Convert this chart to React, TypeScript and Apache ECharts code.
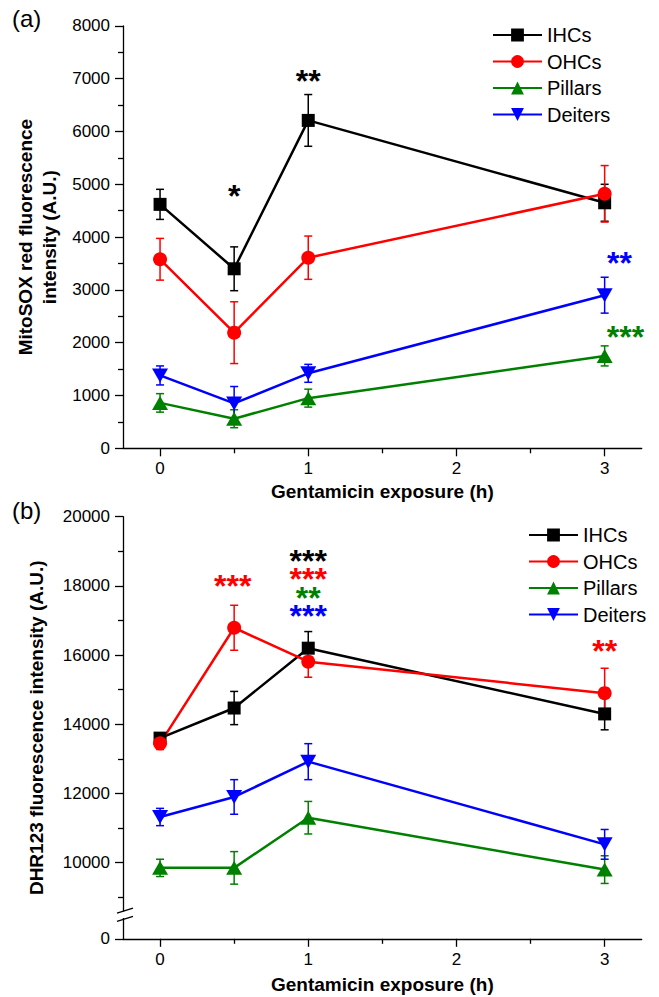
import React, { useEffect, useRef } from "react";
import * as echarts from "echarts";

// ---------- data ----------
const hours = [0, 0.5, 1, 3];
const seriesNames = ["IHCs", "OHCs", "Pillars", "Deiters"];
const seriesColors = ["#000000", "#ff0000", "#008000", "#0000ff"];

// (a) MitoSOX red fluorescence intensity (A.U.)
const mitoIHC = [4620, 3400, 6210, 4650];
const mitoIHCErr = [285, 415, 490, 350];
const mitoOHC = [3580, 2190, 3610, 4820];
const mitoOHCErr = [395, 585, 410, 535];
const mitoPillars = [860, 560, 950, 1750];
const mitoPillarsErr = [175, 170, 170, 190];
const mitoDeiters = [1380, 850, 1420, 2900];
const mitoDeitersErr = [180, 320, 170, 340];

// (b) DHR123 fluorescence intensity (A.U.)
const dhrIHC = [13600, 14470, 16200, 14300];
const dhrIHCErr = [120, 480, 480, 460];
const dhrOHC = [13450, 16790, 15810, 14900];
const dhrOHCErr = [180, 650, 450, 720];
const dhrPillars = [9850, 9850, 11300, 9800];
const dhrPillarsErr = [250, 470, 470, 400];
const dhrDeiters = [11320, 11900, 12920, 10530];
const dhrDeitersErr = [250, 500, 520, 430];

// tick values
const xMajorTicks = [0, 1, 2, 3];
const xMinorTicks = [0.5, 1.5, 2.5];
const yBMin = 7800; // shown as "0" below the axis break
const yBMajorTicks = [yBMin, 10000, 12000, 14000, 16000, 18000, 20000];
const yBMinorTicks = [9000, 11000, 13000, 15000, 17000, 19000];

// significance marks: x, y (centre of the block), lines of [stars, seriesIndex]
type Sig = { x: number; y: number; lines: [string, number][] };
const sigA: Sig[] = [
  { x: 0.5, y: 4860, lines: [["*", 0]] },
  { x: 1, y: 7030, lines: [["**", 0]] },
  { x: 3.1, y: 3585, lines: [["**", 3]] },
  { x: 3.14, y: 2180, lines: [["***", 2]] },
];
const sigB: Sig[] = [
  { x: 0.49, y: 18120, lines: [["***", 1]] },
  { x: 1, y: 18043, lines: [["***", 0], ["***", 1], ["**", 2], ["***", 3]] },
  { x: 3, y: 16240, lines: [["**", 1]] },
];

const FONT = "'Liberation Sans', Arial, Helvetica, sans-serif";
const invTri = "path://M0,0 L10,0 L5,9 Z";
const seriesSymbols = ["rect", "circle", "triangle", invTri];
const seriesSymbolSizes: any[] = [13, 14, [16, 14], [16, 14]];

function errorSeries(gi: number, vals: number[], errs: number[], color: string) {
  return {
    type: "custom",
    xAxisIndex: gi * 2,
    yAxisIndex: gi * 2,
    silent: true,
    data: hours.map((h, i) => [h, vals[i] - errs[i], vals[i] + errs[i]]),
    renderItem: (_p: any, api: any) => {
      const x = api.value(0);
      const lo = api.coord([x, api.value(1)]);
      const hi = api.coord([x, api.value(2)]);
      const w = 4;
      const st = { stroke: color, lineWidth: 1.5 };
      return {
        type: "group",
        children: [
          { type: "line", shape: { x1: lo[0], y1: lo[1], x2: hi[0], y2: hi[1] }, style: st },
          { type: "line", shape: { x1: hi[0] - w, y1: hi[1], x2: hi[0] + w, y2: hi[1] }, style: st },
          { type: "line", shape: { x1: lo[0] - w, y1: lo[1], x2: lo[0] + w, y2: lo[1] }, style: st },
        ],
      };
    },
  };
}

function lineSeries(gi: number, si: number, vals: number[]) {
  return {
    type: "line",
    name: seriesNames[si],
    xAxisIndex: gi * 2,
    yAxisIndex: gi * 2,
    data: hours.map((h, i) => [h, vals[i]]),
    symbol: seriesSymbols[si],
    symbolSize: seriesSymbolSizes[si],
    showAllSymbol: true,
    lineStyle: { color: seriesColors[si], width: 2.5 },
    itemStyle: { color: seriesColors[si] },
    silent: true,
  };
}

const starRich: any = {};
seriesColors.forEach((c, i) => {
  starRich["c" + i] = {
    color: c,
    fontSize: 32,
    fontWeight: "bold",
    fontFamily: FONT,
    lineHeight: 18.3,
  };
});

function sigSeries(gi: number, marks: Sig[]) {
  return {
    type: "scatter",
    xAxisIndex: gi * 2,
    yAxisIndex: gi * 2,
    silent: true,
    symbolSize: 1,
    itemStyle: { color: "rgba(0,0,0,0)", opacity: 1 },
    data: marks.map((m) => ({
      name: m.lines.map(([s, ci]) => `{c${ci}|${s}}`).join("\n"),
      value: [m.x, m.y],
    })),
    label: {
      show: true,
      position: "inside",
      formatter: "{b}",
      fontSize: 32,
      lineHeight: 18.3,
      fontWeight: "bold",
      fontFamily: FONT,
      opacity: 1,
      offset: [0, 4],
      rich: starRich,
    },
    z: 5,
  };
}

const axisLineStyle = { color: "#000", width: 1.3 };
const labelStyle = { fontSize: 17, color: "#000", fontFamily: FONT };
const nameStyle = { fontSize: 19, fontWeight: "bold", color: "#000", fontFamily: FONT };

function xAxes(gi: number, gap: number) {
  return [
    {
      type: "value",
      gridIndex: gi,
      min: -0.25,
      max: 3.25,
      axisLine: { show: true, onZero: false, lineStyle: axisLineStyle },
      axisTick: { show: true, customValues: xMajorTicks, length: 8, lineStyle: axisLineStyle },
      axisLabel: { show: true, customValues: xMajorTicks, margin: 12, ...labelStyle, formatter: (v: number) => String(v) },
      splitLine: { show: false },
      name: "Gentamicin exposure (h)",
      nameLocation: "middle",
      nameGap: gap,
      nameTextStyle: { ...nameStyle, lineHeight: 19 },
    },
    {
      type: "value",
      gridIndex: gi,
      position: "bottom",
      min: -0.25,
      max: 3.25,
      axisLine: { show: false, onZero: false },
      axisTick: { show: true, customValues: xMinorTicks, length: 5, lineStyle: axisLineStyle },
      axisLabel: { show: false },
      splitLine: { show: false },
    },
  ];
}

export default function App() {
  const ref = useRef<HTMLDivElement>(null);
  useEffect(() => {
    if (!ref.current) return;
    const chart = echarts.init(ref.current, undefined, { renderer: "svg" });
    const legendCommon = {
      orient: "vertical",
      data: seriesNames,
      itemWidth: 49,
      itemHeight: 16,
      itemGap: 6.5,
      padding: 0,
      textStyle: { fontSize: 20, lineHeight: 20, color: "#000", fontFamily: FONT },
      selectedMode: false,
    };
    const option: any = {
      animation: false,
      backgroundColor: "#ffffff",
      textStyle: { fontFamily: FONT },
      grid: [
        { left: 123, top: 25.9, width: 518.7, height: 422.4 },
        { left: 123, top: 516.7, width: 518.7, height: 422.1 },
      ],
      xAxis: [...xAxes(0, 34), ...xAxes(1, 36)],
      yAxis: [
        {
          type: "value",
          gridIndex: 0,
          min: 0,
          max: 8000,
          interval: 1000,
          axisLine: { show: true, onZero: false, lineStyle: axisLineStyle },
          axisTick: { show: true, length: 8, lineStyle: axisLineStyle },
          minorTick: { show: true, splitNumber: 2, length: 5, lineStyle: axisLineStyle },
          axisLabel: { margin: 13, ...labelStyle, formatter: (v: number) => String(v) },
          splitLine: { show: false },
          name: "MitoSOX red fluorescence\nintensity (A.U.)",
          nameLocation: "middle",
          nameRotate: 90,
          nameGap: 47,
          nameTextStyle: { ...nameStyle, lineHeight: 23.7 },
        },
        {
          type: "value",
          gridIndex: 0,
          min: 0,
          max: 8000,
          show: false,
        },
        {
          type: "value",
          gridIndex: 1,
          min: yBMin,
          max: 20000,
          axisLine: { show: true, onZero: false, lineStyle: axisLineStyle },
          axisTick: { show: true, customValues: yBMajorTicks, length: 8, lineStyle: axisLineStyle },
          axisLabel: {
            customValues: yBMajorTicks,
            margin: 13,
            ...labelStyle,
            formatter: (v: number) => (v === yBMin ? "0" : String(v)),
          },
          splitLine: { show: false },
          name: "DHR123 fluorescence intensity (A.U.)",
          nameLocation: "middle",
          nameRotate: 90,
          nameGap: 75,
          nameTextStyle: { ...nameStyle, lineHeight: 23.7 },
        },
        {
          type: "value",
          gridIndex: 1,
          position: "left",
          min: yBMin,
          max: 20000,
          axisLine: { show: false, onZero: false },
          axisTick: { show: true, customValues: yBMinorTicks, length: 5, lineStyle: axisLineStyle },
          axisLabel: { show: false },
          splitLine: { show: false },
        },
      ],
      legend: [
        { ...legendCommon, left: 492, top: 25 },
        { ...legendCommon, left: 528, top: 525 },
      ],
      graphic: [
        { type: "text", left: 12, top: 6, style: { text: "(a)", fontSize: 24, fill: "#000", fontFamily: FONT } },
        { type: "text", left: 12, top: 498, style: { text: "(b)", fontSize: 24, fill: "#000", fontFamily: FONT } },
        // axis break marks on (b)
        { type: "rect", shape: { x: 119, y: 911.5, width: 8, height: 6.5 }, style: { fill: "#fff" }, z: 100 },
        { type: "line", shape: { x1: 117, y1: 913.2, x2: 133, y2: 908.2 }, style: { stroke: "#000", lineWidth: 1.3 }, z: 101 },
        { type: "line", shape: { x1: 117, y1: 921.4, x2: 133, y2: 916.4 }, style: { stroke: "#000", lineWidth: 1.3 }, z: 101 },
      ],
      series: [
        errorSeries(0, mitoIHC, mitoIHCErr, seriesColors[0]),
        lineSeries(0, 0, mitoIHC),
        errorSeries(0, mitoOHC, mitoOHCErr, seriesColors[1]),
        lineSeries(0, 1, mitoOHC),
        errorSeries(0, mitoPillars, mitoPillarsErr, seriesColors[2]),
        lineSeries(0, 2, mitoPillars),
        errorSeries(0, mitoDeiters, mitoDeitersErr, seriesColors[3]),
        lineSeries(0, 3, mitoDeiters),
        sigSeries(0, sigA),
        errorSeries(1, dhrIHC, dhrIHCErr, seriesColors[0]),
        lineSeries(1, 0, dhrIHC),
        errorSeries(1, dhrOHC, dhrOHCErr, seriesColors[1]),
        lineSeries(1, 1, dhrOHC),
        errorSeries(1, dhrPillars, dhrPillarsErr, seriesColors[2]),
        lineSeries(1, 2, dhrPillars),
        errorSeries(1, dhrDeiters, dhrDeitersErr, seriesColors[3]),
        lineSeries(1, 3, dhrDeiters),
        sigSeries(1, sigB),
      ],
    };
    chart.setOption(option);
    return () => chart.dispose();
  }, []);
  return (
    <div
      ref={ref}
      style={{ position: "fixed", left: 0, top: 0, width: 659, height: 997, background: "#fff" }}
    />
  );
}
